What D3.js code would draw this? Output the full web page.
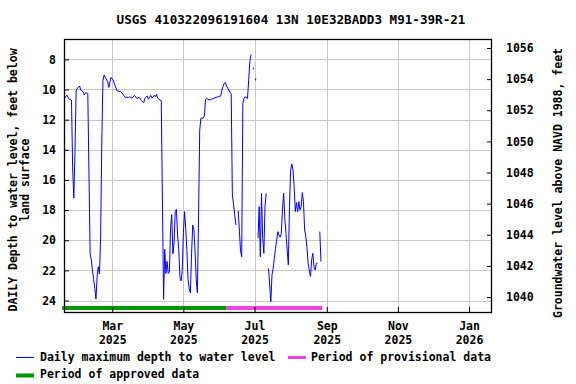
<!DOCTYPE html>
<html>
<head>
<meta charset="utf-8">
<script src="https://cdn.jsdelivr.net/npm/d3@7"></script>
<style>
  html, body { margin: 0; padding: 0; background: #ffffff; }
  svg { display: block; }
  text { font-family: "DejaVu Sans Mono", monospace; font-weight: bold; fill: #000; }
</style>
</head>
<body>
<svg id="chart" width="576" height="384"></svg>
<script>
// ---------------- DATA ----------------
const titleText = "USGS 410322096191604 13N 10E32BADD3 M91-39R-21";

const dates = [
  "2025-01-19","2025-01-21","2025-01-23","2025-01-25","2025-01-26","2025-01-27","2025-01-28","2025-01-29","2025-01-30",
  "2025-02-01","2025-02-02","2025-02-04","2025-02-05","2025-02-06","2025-02-08","2025-02-09","2025-02-10","2025-02-11",
  "2025-02-12","2025-02-13","2025-02-14","2025-02-15","2025-02-16","2025-02-17","2025-02-18","2025-02-19","2025-02-20",
  "2025-02-21","2025-02-22","2025-02-23","2025-02-25","2025-02-26","2025-02-27","2025-02-28",
  "2025-03-02","2025-03-03","2025-03-05","2025-03-07","2025-03-08","2025-03-10","2025-03-12","2025-03-15","2025-03-16",
  "2025-03-18","2025-03-20","2025-03-22","2025-03-24","2025-03-26","2025-03-28","2025-03-29","2025-03-31",
  "2025-04-01","2025-04-03","2025-04-04","2025-04-06","2025-04-07","2025-04-08","2025-04-09","2025-04-11","2025-04-12",
  "2025-04-13","2025-04-14","2025-04-15","2025-04-16","2025-04-17","2025-04-18","2025-04-19","2025-04-20","2025-04-21",
  "2025-04-22","2025-04-23","2025-04-24","2025-04-25","2025-04-26","2025-04-27","2025-04-28","2025-04-29","2025-04-30",
  "2025-05-01","2025-05-02","2025-05-03","2025-05-04","2025-05-05","2025-05-06","2025-05-07","2025-05-08","2025-05-09",
  "2025-05-10","2025-05-11","2025-05-12","2025-05-13","2025-05-14","2025-05-15","2025-05-16","2025-05-18","2025-05-19",
  "2025-05-20","2025-05-21","2025-05-23","2025-05-25","2025-05-27","2025-05-29","2025-05-31",
  "2025-06-02","2025-06-03","2025-06-04","2025-06-05","2025-06-06","2025-06-07","2025-06-09","2025-06-10","2025-06-11",
  "2025-06-12","2025-06-13","2025-06-14","2025-06-15","2025-06-16","2025-06-17","2025-06-18","2025-06-19","2025-06-20",
  "2025-06-21","2025-06-22","2025-06-23","2025-06-25","2025-06-26","2025-06-27","2025-06-28","2025-06-29","2025-06-30",
  "2025-07-01","2025-07-02","2025-07-03","2025-07-04","2025-07-05","2025-07-06","2025-07-07","2025-07-08","2025-07-09",
  "2025-07-10","2025-07-11","2025-07-12","2025-07-13","2025-07-14","2025-07-15","2025-07-16","2025-07-17","2025-07-18",
  "2025-07-19","2025-07-20","2025-07-21","2025-07-22","2025-07-23","2025-07-24","2025-07-25","2025-07-26","2025-07-27",
  "2025-07-28","2025-07-29","2025-07-30","2025-07-31",
  "2025-08-01","2025-08-02","2025-08-03","2025-08-04","2025-08-05","2025-08-06","2025-08-07","2025-08-08","2025-08-09",
  "2025-08-10","2025-08-11","2025-08-12","2025-08-13","2025-08-14","2025-08-15","2025-08-16","2025-08-17","2025-08-18",
  "2025-08-19","2025-08-20","2025-08-21","2025-08-22","2025-08-23","2025-08-24","2025-08-25","2025-08-26","2025-08-27"
];

const depths = [
  10.59,10.37,10.65,10.70,15.2,17.2,14.1,10.04,9.93,
  9.77,10.04,10.15,10.37,10.21,10.26,15.6,20.9,21.3,
  22.0,22.6,23.2,23.9,22.4,21.75,22.24,19.8,13.5,
  9.4,9.04,9.20,9.48,9.86,9.48,9.20,
  9.42,9.66,10.08,10.12,10.12,10.30,10.52,10.52,10.48,
  10.58,10.39,10.59,10.52,10.74,10.87,10.59,10.43,
  10.65,10.39,10.57,10.39,10.48,10.30,10.59,10.70,10.74,
  17.33,23.92,20.6,22.2,21.4,22.2,22.1,19.2,18.3,
  20.9,20.2,18.1,17.95,19.65,20.6,22.4,22.7,22.0,
  19.5,18.1,19.2,20.7,22.6,23.2,23.5,20.9,19.0,
  19.3,20.7,22.6,23.48,18.4,12.7,11.9,11.9,11.76,
  10.65,10.59,10.70,10.65,10.59,10.52,10.48,
  10.43,10.04,9.81,9.59,9.53,9.77,10.04,10.21,10.26,
  17.0,17.6,18.3,18.99,null,18.04,19.32,20.7,21.09,
  10.92,10.6,10.48,10.59,9.37,8.16,7.69,null,8.6,
  null,9.33,null,19.87,17.77,21.09,16.89,19.87,20.87,
  17.77,16.89,null,21.86,22.97,24.07,22.3,21.86,21.2,
  20.54,19.98,19.43,19.65,19.8,19.55,17.99,16.89,18.55,
  19.54,20.65,21.64,17.77,
  15.34,14.94,15.34,16.45,18.1,17.5,18.1,17.44,18.0,
  17.77,16.84,17.44,19.32,19.76,20.5,21.53,22.0,22.41,
  21.31,20.87,21.75,21.97,21.53,21.53,null,19.43,21.42
];

const approvedPeriod = ["2025-01-17", "2025-06-07"];
const provisionalPeriod = ["2025-06-07", "2025-08-28"];

const depthTicks = [8, 10, 12, 14, 16, 18, 20, 22, 24];
const elevTicks = [1040, 1042, 1044, 1046, 1048, 1050, 1052, 1054, 1056];
const monthTicks = ["2025-03-01", "2025-05-01", "2025-07-01", "2025-09-01", "2025-11-01", "2026-01-01"];
const monthNames = ["Mar", "May", "Jul", "Sep", "Nov", "Jan"];
const yearNames = ["2025", "2025", "2025", "2025", "2025", "2026"];

const leftLabel = ["DAILY Depth to water level, feet below", "land surface"];
const rightLabel = "Groundwater level above NAVD 1988, feet";
const legendItems = ["Daily maximum depth to water level", "Period of provisional data", "Period of approved data"];

// ---------------- LAYOUT ----------------
const L = 64, R = 492, T = 39, B = 312;
const parse = d3.utcParse("%Y-%m-%d");

const x = d3.scaleUtc()
  .domain([new Date(Date.UTC(2025, 0, 18, 14)), new Date(Date.UTC(2026, 0, 20, 17))])
  .range([L, R]);
const yL = d3.scaleLinear().domain([6.65, 24.76]).range([T, B]);
const yR = d3.scaleLinear().domain([1056.58, 1039.04]).range([T, B]);

const svg = d3.select("#chart");

// title
svg.append("text").attr("x", 291).attr("y", 24).attr("text-anchor", "middle")
  .style("font-size", "12.6px").text(titleText);

// grid
const grid = svg.append("g").attr("stroke", "#c8c8c8").attr("stroke-width", 1);
grid.selectAll("line.h").data(depthTicks).join("line")
  .attr("x1", L).attr("x2", R)
  .attr("y1", d => Math.round(yL(d)) + 0.5).attr("y2", d => Math.round(yL(d)) + 0.5);
grid.selectAll("line.v").data(monthTicks).join("line")
  .attr("y1", T).attr("y2", B)
  .attr("x1", d => Math.round(x(parse(d))) + 0.5).attr("x2", d => Math.round(x(parse(d))) + 0.5);

// approval bars
const barY = 306, barH = 4;
svg.append("rect")
  .attr("x", x(parse(approvedPeriod[0]))).attr("y", barY)
  .attr("width", x(parse(approvedPeriod[1])) - x(parse(approvedPeriod[0]))).attr("height", barH)
  .attr("fill", "#009900");
svg.append("rect")
  .attr("x", x(parse(provisionalPeriod[0]))).attr("y", barY)
  .attr("width", x(parse(provisionalPeriod[1])) - x(parse(provisionalPeriod[0]))).attr("height", barH)
  .attr("fill", "#ee44dd");

// data line
const pts = dates.map((d, i) => ({ t: parse(d), v: depths[i] }));
const line = d3.line().defined(d => d.v !== null).x(d => x(d.t)).y(d => yL(d.v));
svg.append("path").datum(pts).attr("d", line)
  .attr("fill", "none").attr("stroke", "#0000ff").attr("stroke-width", 1);
// isolated points
const iso = pts.filter((d, i) => d.v !== null &&
  (i === 0 || pts[i - 1].v === null) && (i === pts.length - 1 || pts[i + 1].v === null));
svg.selectAll("rect.iso").data(iso).join("rect")
  .attr("x", d => x(d.t) - 0.5).attr("y", d => yL(d.v) - 1)
  .attr("width", 1).attr("height", 2).attr("fill", "#0000ff");

// axes
const fs = "11.5px";
const axL = svg.append("g").attr("transform", `translate(${L},0)`)
  .call(d3.axisLeft(yL).tickValues(depthTicks).tickSize(-5).tickPadding(8).tickFormat(d3.format("d")));
const axR = svg.append("g").attr("transform", `translate(${R},0)`)
  .call(d3.axisRight(yR).tickValues(elevTicks).tickSize(-5).tickPadding(14).tickFormat(d3.format("d")));
const axB = svg.append("g").attr("transform", `translate(0,${B})`)
  .call(d3.axisBottom(x).tickValues(monthTicks.map(parse)).tickSize(-5).tickFormat(""));
[axL, axR, axB].forEach(a => {
  a.select(".domain").remove();
  a.selectAll(".tick line").attr("stroke", "#000");
  a.selectAll("text").style("font-size", fs).style("font-family", "DejaVu Sans Mono").style("font-weight", "bold");
});
axB.selectAll(".tick").each(function (d, i) {
  const t = d3.select(this).append("text").attr("text-anchor", "middle").attr("fill", "#000")
    .style("font-size", fs);
  t.append("tspan").attr("x", 0).attr("y", 17.5).text(monthNames[i]);
  t.append("tspan").attr("x", 0).attr("y", 31.5).text(yearNames[i]);
});

// frame
svg.append("rect").attr("x", L + 0.5).attr("y", T + 0.5).attr("width", R - L - 1).attr("height", B - T)
  .attr("fill", "none").attr("stroke", "#000").attr("stroke-width", 1.3);

// axis titles
const lt = svg.append("text").attr("transform", "translate(17,180) rotate(-90)")
  .attr("text-anchor", "middle").style("font-size", fs);
lt.append("tspan").attr("x", 0).attr("y", 0).text(leftLabel[0]);
lt.append("tspan").attr("x", 0).attr("y", 12).text(leftLabel[1]);
svg.append("text").attr("transform", "translate(562,183) rotate(-90)")
  .attr("text-anchor", "middle").style("font-size", fs).text(rightLabel);

// legend
const lg = svg.append("g").style("font-size", fs);
lg.append("line").attr("x1", 16).attr("x2", 34).attr("y1", 357.5).attr("y2", 357.5)
  .attr("stroke", "#0000ff").attr("stroke-width", 1);
lg.append("text").attr("x", 40).attr("y", 361).text(legendItems[0]);
lg.append("rect").attr("x", 288).attr("y", 356).attr("width", 18).attr("height", 3).attr("fill", "#ee44dd");
lg.append("text").attr("x", 311).attr("y", 361).text(legendItems[1]);
lg.append("rect").attr("x", 16).attr("y", 373.5).attr("width", 18).attr("height", 4).attr("fill", "#009900");
lg.append("text").attr("x", 40).attr("y", 378).text(legendItems[2]);
</script>
</body>
</html>
